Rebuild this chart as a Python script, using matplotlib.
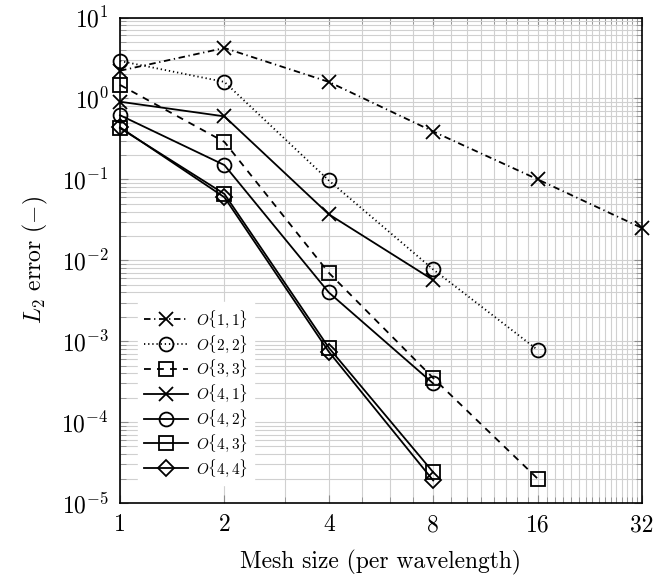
import numpy as np
import matplotlib
matplotlib.use("Agg")
import matplotlib.pyplot as plt
from matplotlib import ticker

plt.rcParams["font.family"] = "serif"
plt.rcParams["font.serif"] = ["cmr10"]
plt.rcParams["mathtext.fontset"] = "cm"
plt.rcParams["axes.formatter.use_mathtext"] = True

# mesh size per wavelength
mesh = [1, 2, 4, 8, 16, 32]

# L2 errors
err_o11 = [2.2, 4.2, 1.6, 0.39, 0.10, 0.025]
err_o22 = [2.9, 1.6, 0.097, 0.0077, 7.8e-4]
err_o33 = [1.47, 0.29, 0.0070, 3.5e-4, 2.0e-5]
err_o41 = [0.91, 0.60, 0.037, 0.0057]
err_o42 = [0.62, 0.15, 0.0040, 3.0e-4]
err_o43 = [0.43, 0.066, 8.3e-4, 2.4e-5]
err_o44 = [0.44, 0.060, 7.4e-4, 1.9e-5]

labels = ["$O\\{1,1\\}$", "$O\\{2,2\\}$", "$O\\{3,3\\}$", "$O\\{4,1\\}$",
          "$O\\{4,2\\}$", "$O\\{4,3\\}$", "$O\\{4,4\\}$"]

dashdot = (0, (3.6, 2.0, 0.7, 2.0))
dotted = (0, (0.7, 1.6))
dashed = (0, (3.8, 3.4))

series = [
    (err_o11, dashdot, "x", 10),
    (err_o22, dotted, "o", 10),
    (err_o33, dashed, "s", 9.5),
    (err_o41, "-", "x", 10),
    (err_o42, "-", "o", 10),
    (err_o43, "-", "s", 9.5),
    (err_o44, "-", "D", 8.5),
]

fig = plt.figure(figsize=(6.65, 5.77), dpi=100)
ax = fig.add_axes([120 / 665, 1 - 503 / 577, 522 / 665, 485.5 / 577])

for (vals, ls, mk, ms), lab in zip(series, labels):
    ax.plot(mesh[:len(vals)], vals, color="black", linestyle=ls, linewidth=1.3,
            marker=mk, markersize=ms, markerfacecolor="none",
            markeredgecolor="black", markeredgewidth=1.3, label=lab,
            clip_on=False, zorder=3)

ax.set_xscale("log", base=2)
ax.set_yscale("log")
ax.set_xlim(1, 32)
ax.set_ylim(1e-5, 1e1)

ax.set_xticks(mesh)
ax.set_xticklabels([str(m) for m in mesh])
ax.set_xticks([v for v in range(3, 32) if v not in mesh], minor=True)
ax.xaxis.set_minor_formatter(ticker.NullFormatter())

ax.yaxis.set_major_locator(ticker.LogLocator(base=10, numticks=20))
ax.yaxis.set_minor_locator(ticker.LogLocator(base=10, subs=np.arange(2, 10), numticks=20))
ax.yaxis.set_minor_formatter(ticker.NullFormatter())

ax.grid(True, which="both", color="#d0d0d0", linewidth=0.8, zorder=0)
ax.set_axisbelow(True)

ax.tick_params(which="both", direction="in", top=True, right=True,
               color="#8c8c8c", labelsize=17)
ax.tick_params(which="major", length=6, pad=8)
ax.tick_params(which="minor", length=4)
for sp in ax.spines.values():
    sp.set_linewidth(1.2)

ax.set_xlabel("Mesh size (per wavelength)", fontsize=17, labelpad=10)
ax.set_ylabel("$L_2$ error $(-)$", fontsize=17, labelpad=8)

leg = ax.legend(loc="lower left", bbox_to_anchor=(0.02, 0.022), fontsize=11,
                frameon=True, fancybox=False, framealpha=1, facecolor="white",
                edgecolor="white", handlelength=2.9, labelspacing=0.2,
                numpoints=1, borderpad=0.4, handletextpad=0.5)
leg.set_zorder(5)

fig.savefig("out.png", dpi=100)
